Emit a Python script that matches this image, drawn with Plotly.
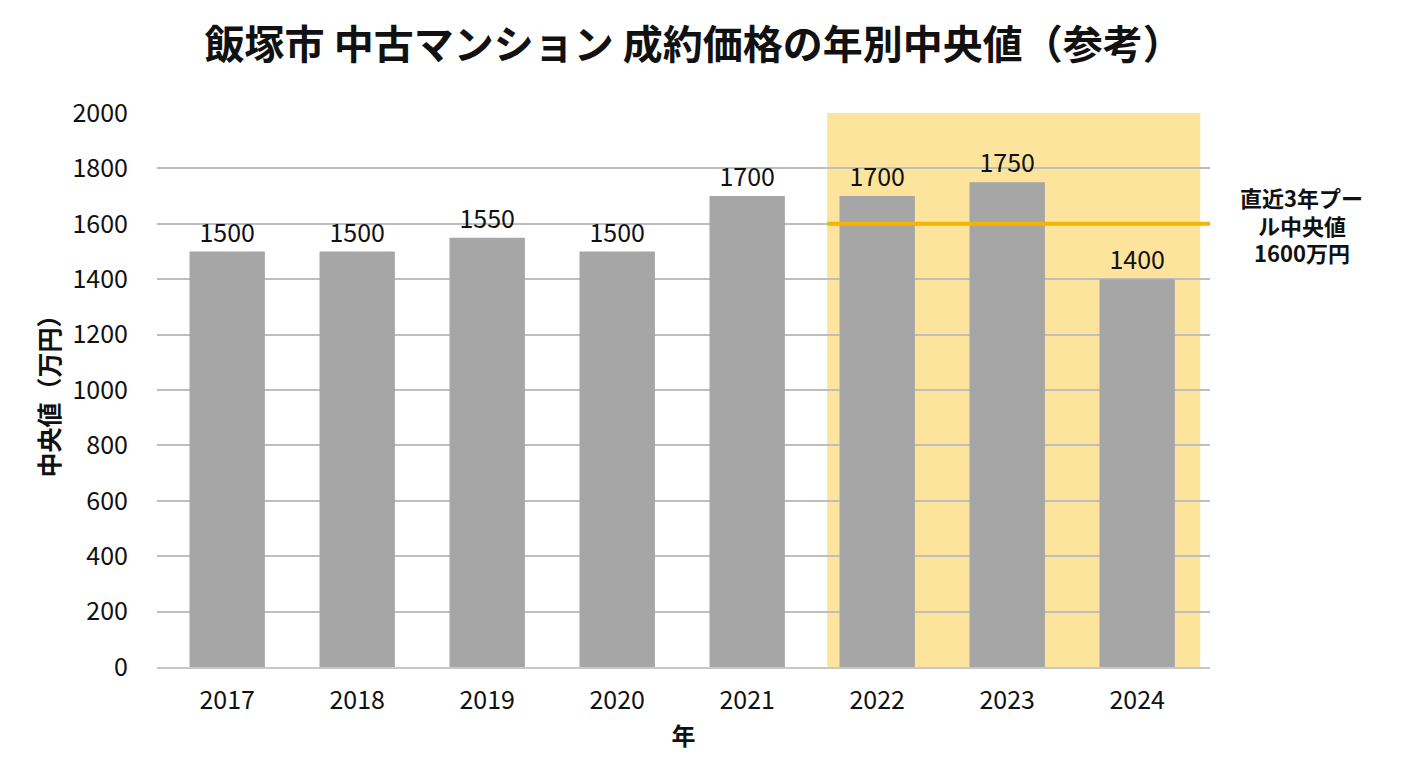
import plotly.graph_objects as go

years = ["2017", "2018", "2019", "2020", "2021", "2022", "2023", "2024"]
medians = [1500, 1500, 1550, 1500, 1700, 1700, 1750, 1400]
pooled_median = 1600
y_ticks = [0, 200, 400, 600, 800, 1000, 1200, 1400, 1600, 1800, 2000]

title = "飯塚市 中古マンション 成約価格の年別中央値（参考）"
pool_label_lines = ["直近3年プー", "ル中央値", "1600万円"]

FONT = "Noto Sans CJK JP"

fig = go.Figure()
fig.add_trace(go.Bar(
    x=list(range(len(years))), y=medians,
    marker=dict(color="#A6A6A6", line=dict(width=0)),
    width=0.58,
    text=[str(v) for v in medians], textposition="outside",
    textfont=dict(size=25, color="#111111", family=FONT),
    cliponaxis=False,
))

# highlight band for recent 3 years
fig.add_shape(type="rect", xref="x", yref="paper", x0=4.615, x1=7.485, y0=0, y1=1,
              fillcolor="#FCE49C", line=dict(width=0), layer="below")
# pooled median line
fig.add_shape(type="line", xref="x", yref="y", x0=4.615, x1=7.56, y0=pooled_median, y1=pooled_median,
              line=dict(color="#F4B400", width=4), layer="above")

for i, line in enumerate(pool_label_lines):
    fig.add_annotation(xref="paper", yref="y", x=1.087, y=pooled_median, text=line,
                       showarrow=False, align="center", xanchor="center", yanchor="middle",
                       yshift=(1 - i) * 27.5 - 1, borderpad=0,
                       font=dict(size=22, color="#111111", family=FONT, weight="bold"))

fig.update_layout(
    width=1408, height=768,
    paper_bgcolor="white", plot_bgcolor="rgba(0,0,0,0)",
    margin=dict(l=149, r=206, t=105, b=109),
    title=dict(text=title, x=0.487, xanchor="center", y=0.952, yanchor="middle",
               font=dict(size=40, color="#111111", family=FONT, weight="bold")),
    showlegend=False,
    bargap=0.42,
    font=dict(family=FONT, color="#111111"),
)
fig.update_xaxes(
    tickmode="array", tickvals=list(range(len(years))), ticktext=years,
    range=[-0.54, 7.56], showgrid=False, zeroline=False,
    showline=True, linecolor="#C8C8C8", linewidth=1.5,
    ticks="", tickfont=dict(size=25, color="#111111"), ticklabelstandoff=10,
    title=dict(text="年", font=dict(size=24, color="#111111", weight="bold"), standoff=13),
)
fig.update_yaxes(
    range=[0, 2000], tickmode="array", tickvals=y_ticks,
    showgrid=True, gridcolor="#BEBEBE", gridwidth=1.5, zeroline=False,
    ticks="", tickfont=dict(size=25, color="#111111"), ticklabelstandoff=28,
    title=dict(text="中央値（万円）", font=dict(size=25, color="#111111", weight="bold"), standoff=5),
)

fig.write_html("out.html")
